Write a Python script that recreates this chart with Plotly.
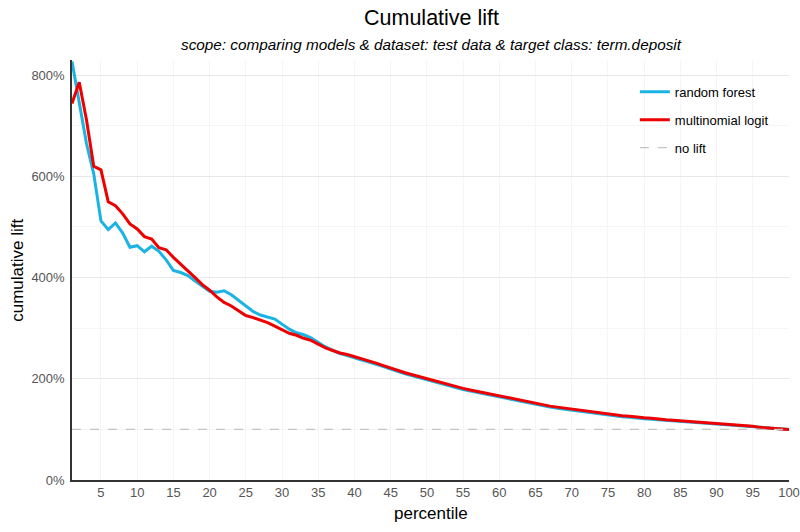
import plotly.graph_objects as go

percentile = list(range(1, 101))

random_forest = [
    827, 745, 665, 605, 512, 495, 508, 488, 460, 463,
    451, 462, 452, 435, 414, 410, 404, 393, 383, 373,
    371, 374, 366, 355, 344, 333, 326, 322, 318, 308,
    298, 291, 287, 281, 272, 263, 256, 250, 246, 241,
    237, 233, 229, 224, 219, 214, 210, 206, 202, 198,
    194, 190, 186, 182, 179, 176, 173, 170, 167, 164,
    161, 158, 155, 152, 149, 147, 144, 142, 140, 138,
    136, 134, 132, 130, 128, 127, 125, 124, 122, 121,
    120, 119, 118, 117, 116, 115, 114, 112, 111, 110,
    109, 108, 107, 106, 105, 104, 103, 102, 101, 100,
]

multinomial_logit = [
    744, 786, 712, 620, 613, 550, 542, 526, 506, 496,
    481, 476, 459, 455, 440, 427, 413, 400, 386, 375,
    362, 351, 344, 334, 325, 321, 316, 311, 304, 297,
    290, 286, 280, 276, 268, 261, 256, 251, 248, 244,
    240, 236, 231, 226, 221, 216, 212, 208, 204, 200,
    196, 192, 188, 184, 181, 178, 175, 172, 169, 166,
    163, 160, 157, 154, 151, 149, 146, 144, 142, 140,
    138, 136, 134, 132, 130, 129, 127, 126, 124, 123,
    122, 120, 119, 118, 117, 116, 115, 113, 112, 111,
    110, 109, 108, 107, 106, 104, 103, 102, 101, 100,
]

no_lift = [100] * 100

x_ticks = list(range(5, 101, 5))
y_ticks = [0, 200, 400, 600, 800]
y_tick_labels = ["0%", "200%", "400%", "600%", "800%"]

fig = go.Figure()
fig.add_trace(go.Scatter(x=percentile, y=random_forest, mode="lines", name="random forest",
                         line=dict(color="#1AB3E3", width=3), legendgroup="a"))
fig.add_trace(go.Scatter(x=percentile, y=multinomial_logit, mode="lines", name="multinomial logit",
                         line=dict(color="#EE0000", width=3), legendgroup="b"))
fig.add_trace(go.Scatter(x=percentile, y=no_lift, mode="lines", name="no lift",
                         line=dict(color="#C4C4C4", width=1.2, dash="dash"), legendgroup="c"))

fig.update_layout(
    width=800, height=532,
    paper_bgcolor="white", plot_bgcolor="white",
    margin=dict(l=72, r=11, t=60, b=52, autoexpand=False),
    font=dict(family="Liberation Sans, Arial, sans-serif", color="black"),
    legend=dict(x=0.785, y=0.96, xanchor="left", yanchor="top",
                bgcolor="rgba(0,0,0,0)", font=dict(size=13, color="black"),
                traceorder="grouped", tracegroupgap=8, itemwidth=30),
    showlegend=True,
    annotations=[
        dict(text="Cumulative lift", xref="paper", yref="paper", x=0.502, y=1.1,
             xanchor="center", yanchor="middle", showarrow=False,
             font=dict(size=21.5, color="black")),
        dict(text="<i>scope: comparing models &amp; dataset: test data &amp; target class: term.deposit</i>",
             xref="paper", yref="paper", x=0.502, y=1.036,
             xanchor="center", yanchor="middle", showarrow=False,
             font=dict(size=15.3, color="black")),
        dict(text="cumulative lift", xref="paper", yref="paper", x=-0.077, y=0.5,
             xanchor="center", yanchor="middle", showarrow=False, textangle=-90,
             font=dict(size=17, color="black")),
        dict(text="percentile", xref="paper", yref="paper", x=0.5, y=-0.08,
             xanchor="center", yanchor="middle", showarrow=False,
             font=dict(size=17, color="black")),
    ],
)
fig.update_xaxes(
    range=[1, 100], tickvals=x_ticks, ticks="", showline=True, linecolor="#333333", linewidth=1.5,
    showgrid=True, gridcolor="#F5F5F5", gridwidth=1, zeroline=False, automargin=False,
    tickfont=dict(size=13, color="#555555"),
)
fig.update_yaxes(
    range=[0, 830], tickvals=y_ticks, ticktext=y_tick_labels, ticks="", showline=True,
    linecolor="#333333", linewidth=1.5, ticklabelstandoff=3,
    showgrid=True, gridcolor="#E8E8E8", gridwidth=1, zeroline=False, automargin=False,
    minor=dict(tickvals=[100, 300, 500, 700], showgrid=True, gridcolor="#F5F5F5"),
    tickfont=dict(size=13, color="#555555"),
)

fig.write_html("out.html", config={"displayModeBar": False},
               post_script="document.body.style.margin='0';")
